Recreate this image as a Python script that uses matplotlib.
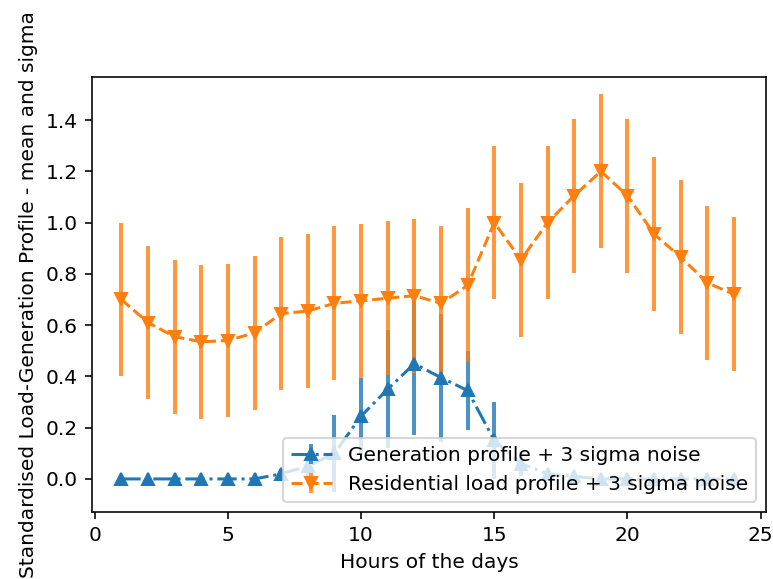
import matplotlib
matplotlib.use("Agg")
import matplotlib.pyplot as plt
import numpy as np

hours = list(range(1, 25))
gen_mean = [0.0, 0.0, 0.0, 0.0, 0.0, 0.0, 0.02, 0.05, 0.10, 0.245, 0.35, 0.45,
            0.395, 0.345, 0.15, 0.06, 0.02, 0.01, 0.0, 0.0, 0.0, 0.0, 0.0, 0.0]
gen_err = [0.0, 0.0, 0.0, 0.0, 0.0, 0.0, 0.02, 0.05, 0.15, 0.15, 0.23, 0.28,
           0.25, 0.155, 0.15, 0.05, 0.02, 0.01, 0.0, 0.0, 0.0, 0.0, 0.0, 0.0]
load_mean = [0.70, 0.61, 0.555, 0.535, 0.54, 0.57, 0.645, 0.655, 0.685, 0.695, 0.705, 0.715,
             0.685, 0.755, 1.0, 0.855, 1.0, 1.105, 1.2, 1.105, 0.955, 0.865, 0.765, 0.72]
load_err = [0.3] * 24

gen_label = "Generation profile + 3 sigma noise"
load_label = "Residential load profile + 3 sigma noise"
xlabel = "Hours of the days"
ylabel = "Standardised Load-Generation Profile - mean and sigma"

dpi = 145
fig = plt.figure(figsize=(774 / dpi, 579 / dpi), dpi=dpi)
ax = fig.add_axes([92 / 774, 1 - 512 / 579, (766 - 92) / 774, (512 - 77) / 579])

eb1 = ax.errorbar(hours, gen_mean, yerr=gen_err, fmt='-.^', color='#1f77b4',
                  elinewidth=2, label=gen_label)
for c in eb1[2]:
    c.set_alpha(0.8)
eb2 = ax.errorbar(hours, load_mean, yerr=load_err, fmt='--v', color='#ff7f0e',
                  elinewidth=2, label=load_label)
for c in eb2[2]:
    c.set_alpha(0.8)

ax.set_ylim(-0.129, 1.568)
ax.set_xlim(-0.1, 25.2)
ax.set_xticks([0, 5, 10, 15, 20, 25])
ax.set_yticks([0.0, 0.2, 0.4, 0.6, 0.8, 1.0, 1.2, 1.4])
ax.set_xlabel(xlabel)
ax.set_ylabel(ylabel)
ax.legend(loc='lower right')

fig.savefig("out.png", dpi=dpi)
